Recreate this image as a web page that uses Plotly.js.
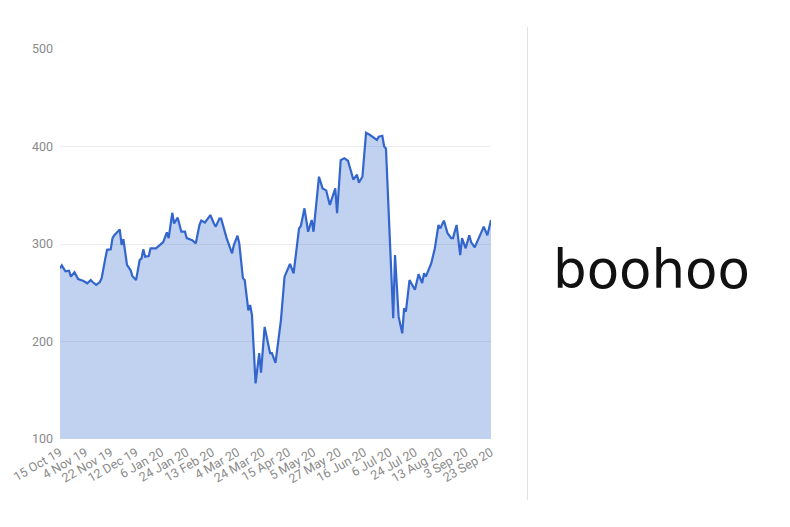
<!DOCTYPE html>
<html>
<head>
<meta charset="utf-8">
<script src="https://cdn.plot.ly/plotly-3.0.1.min.js"></script>
<style>
  html, body { margin: 0; padding: 0; background: #fff; }
  #chart { width: 790px; height: 527px; }
</style>
</head>
<body>
<div id="chart"></div>
<script>
// Trading dates (LSE) and closing price (pence)
const dates = [
  '2019-10-15','2019-10-16','2019-10-18','2019-10-22','2019-10-23','2019-10-25','2019-10-29','2019-11-01',
  '2019-11-05','2019-11-07','2019-11-08','2019-11-12','2019-11-14','2019-11-15','2019-11-19','2019-11-20',
  '2019-11-22','2019-11-25','2019-11-26','2019-11-29','2019-12-02','2019-12-03','2019-12-05','2019-12-09',
  '2019-12-10','2019-12-12','2019-12-16','2019-12-17','2019-12-18','2019-12-19','2019-12-23','2019-12-24',
  '2019-12-31','2020-01-03','2020-01-07','2020-01-09','2020-01-10','2020-01-14','2020-01-15','2020-01-17',
  '2020-01-21','2020-01-23','2020-01-24','2020-01-29','2020-01-31','2020-02-04','2020-02-05','2020-02-07',
  '2020-02-12','2020-02-14','2020-02-17','2020-02-19','2020-02-20','2020-02-25','2020-02-28','2020-03-02',
  '2020-03-04','2020-03-05','2020-03-09','2020-03-10','2020-03-12','2020-03-13','2020-03-16','2020-03-18',
  '2020-03-20','2020-03-23','2020-03-25','2020-03-30','2020-03-31','2020-04-02','2020-04-07','2020-04-09',
  '2020-04-16','2020-04-20','2020-04-22','2020-04-23','2020-04-24','2020-04-28','2020-04-30','2020-05-04',
  '2020-05-05','2020-05-11','2020-05-13','2020-05-15','2020-05-19','2020-05-22','2020-05-26','2020-05-28',
  '2020-06-01','2020-06-03','2020-06-04','2020-06-08','2020-06-10','2020-06-11','2020-06-15','2020-06-17',
  '2020-06-19','2020-06-23','2020-06-25','2020-06-26','2020-06-30','2020-07-01','2020-07-02','2020-07-08',
  '2020-07-09','2020-07-13','2020-07-15','2020-07-16','2020-07-17','2020-07-21','2020-07-23','2020-07-24',
  '2020-07-28','2020-07-30','2020-07-31','2020-08-03','2020-08-06','2020-08-10','2020-08-12','2020-08-13',
  '2020-08-17','2020-08-19','2020-08-21','2020-08-24','2020-08-26','2020-08-28','2020-09-01','2020-09-03',
  '2020-09-07','2020-09-08','2020-09-10','2020-09-15','2020-09-17','2020-09-21','2020-09-23'
];
const prices = [
  275,278,272,272.6,266.5,271,264,262,
  259.7,263,261,258,261,265,285,294,
  294.5,306,309,315,299,305,278.5,273,
  267,263,283.6,285,294.5,287,287.7,295.6,
  295.6,299,302,312,306,332,321,327,
  312.6,312.6,306,304,300.7,319.5,324,322,
  329.7,321,317.8,326,326,306,290.5,299,
  308.5,300.7,265,263,232,237.4,227,157,
  188,168,215,188,188,178,222,266.5,
  279.5,270,304,316,318.5,336.6,312.6,324.6,
  312.6,369,357,355,340,357,331.5,386,
  388,385.4,379,366,371,363,369,414,
  412,409.4,406.7,410,411,400,398,224,
  288.7,225.5,208.4,234,230.6,263,256,253,
  269,260,270,266.5,280,295.6,319.5,316,
  324,311,306,306,319.5,288.7,306,295.6,
  309,302,296.6,309,317.8,309,324.6
];
const tickDates = ['2019-10-15','2019-11-04','2019-11-22','2019-12-12','2020-01-06','2020-01-24',
  '2020-02-13','2020-03-04','2020-03-24','2020-04-15','2020-05-05','2020-05-27','2020-06-16',
  '2020-07-06','2020-07-24','2020-08-13','2020-09-03','2020-09-23'];
const tickLabels = ['15 Oct 19','4 Nov 19','22 Nov 19','12 Dec 19','6 Jan 20','24 Jan 20',
  '13 Feb 20','4 Mar 20','24 Mar 20','15 Apr 20','5 May 20','27 May 20','16 Jun 20',
  '6 Jul 20','24 Jul 20','13 Aug 20','3 Sep 20','23 Sep 20'];
const yTicks = [100, 200, 300, 400, 500];
const holidays = ['2019-12-25','2019-12-26','2020-01-01','2020-04-10','2020-04-13',
  '2020-05-08','2020-05-25','2020-08-31'];

const trace = {
  type: 'scatter', mode: 'lines',
  x: dates, y: prices,
  line: { color: '#3366cc', width: 2.2 },
  fill: 'tozeroy', fillcolor: 'rgba(51,102,204,0.3)',
  hoverinfo: 'x+y'
};

const layout = {
  width: 790, height: 527,
  margin: { l: 60, r: 299, t: 49, b: 88 },
  paper_bgcolor: '#ffffff', plot_bgcolor: '#ffffff',
  showlegend: false,
  font: { family: 'Roboto, Arial, sans-serif', size: 12, color: '#888' },
  xaxis: {
    type: 'date',
    range: [dates[0], dates[dates.length - 1]],
    rangebreaks: [ { bounds: ['sat', 'mon'] }, { values: holidays } ],
    tickmode: 'array', tickvals: tickDates, ticktext: tickLabels,
    tickangle: -30, showgrid: false, zeroline: false, showline: false,
    ticks: '', ticklabelstandoff: 3,
    tickfont: { family: 'Roboto, Arial, sans-serif', size: 12.5, color: '#8a8a8a' }
  },
  yaxis: {
    range: [100, 500], tickmode: 'array', tickvals: yTicks,
    showgrid: true, gridcolor: '#ececec', gridwidth: 1,
    zeroline: false, showline: false, ticks: '',
    ticklabelstandoff: 6,
    tickfont: { family: 'Roboto, Arial, sans-serif', size: 12.5, color: '#8a8a8a' }
  },
  shapes: [{
    type: 'line', xref: 'paper', yref: 'paper',
    x0: 1.0847, x1: 1.0847, y0: -0.156, y1: 1.056,
    line: { color: '#e0e0e0', width: 1 }
  }],
  annotations: [{
    xref: 'paper', yref: 'paper', x: 1.3735, y: 0.435,
    xanchor: 'center', yanchor: 'middle', showarrow: false,
    text: 'boohoo',
    font: { family: 'DejaVu Sans', size: 53, color: '#111' }
  }]
};

Plotly.newPlot('chart', [trace], layout, { displayModeBar: false, staticPlot: true });
</script>
</body>
</html>
